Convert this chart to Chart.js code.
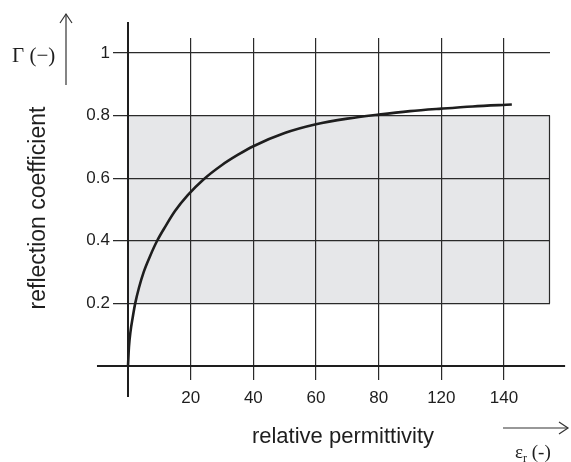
<!DOCTYPE html>
<html>
<head>
<meta charset="utf-8">
<script src="https://cdn.jsdelivr.net/npm/chart.js@4/dist/chart.umd.min.js"></script>
<style>
  html, body { margin: 0; padding: 0; background: #ffffff; }
  #wrap { width: 571px; height: 462px; }
</style>
</head>
<body>
<div id="wrap"><canvas id="c" width="571" height="462"></canvas></div>
<script>
// ---- data ----
const permittivity = [0, 0.3, 0.8, 1.5, 2.3, 3.5, 5, 7, 9.3, 12, 15, 19, 24, 30, 35, 40, 50, 60, 70, 80, 90, 100, 110, 122.5];
const reflection   = [0, 0.06, 0.11, 0.155, 0.2, 0.25, 0.3, 0.35, 0.4, 0.447, 0.495, 0.545, 0.595, 0.642, 0.674, 0.702, 0.744, 0.772, 0.79, 0.803, 0.814, 0.822, 0.829, 0.835];
const xTickValues  = [20, 40, 60, 80, 100, 120];
const xTickLabels  = ['20', '40', '60', '80', '120', '140'];
const yTickValues  = [0.2, 0.4, 0.6, 0.8, 1];
const yTickLabels  = ['0.2', '0.4', '0.6', '0.8', '1'];
const shadeX = [0, 134.4];
const shadeY = [0.2, 0.8];

const SANS = "'Liberation Sans', Arial, Helvetica, sans-serif";
const SERIF = "'Liberation Serif', 'Times New Roman', serif";
const INK = '#1e1e1e';

function arrowHead(ctx, x, y, dir) {
  ctx.beginPath();
  if (dir === 'up') {
    ctx.moveTo(x - 6, y + 9); ctx.lineTo(x, y); ctx.lineTo(x + 6, y + 9);
  } else {
    ctx.moveTo(x - 9, y - 6); ctx.lineTo(x, y); ctx.lineTo(x - 9, y + 6);
  }
  ctx.stroke();
}

const deco = {
  id: 'deco',
  beforeDraw(chart) {
    const { ctx, scales: { x, y } } = chart;
    ctx.save();
    ctx.fillStyle = '#e6e7e9';
    const x0 = x.getPixelForValue(shadeX[0]), x1 = x.getPixelForValue(shadeX[1]);
    const y0 = y.getPixelForValue(shadeY[1]), y1 = y.getPixelForValue(shadeY[0]);
    ctx.fillRect(x0, y0, x1 - x0, y1 - y0);
    ctx.restore();
  },
  beforeDatasetsDraw(chart) {
    const { ctx, scales: { x, y } } = chart;
    ctx.save();
    ctx.strokeStyle = '#2a2a2a';
    ctx.lineWidth = 1.2;
    const xr = Math.round(x.getPixelForValue(shadeX[1])) + 0.5;
    ctx.beginPath();
    ctx.moveTo(xr, y.getPixelForValue(shadeY[1]));
    ctx.lineTo(xr, y.getPixelForValue(shadeY[0]));
    ctx.stroke();
    ctx.strokeStyle = INK;
    ctx.lineWidth = 2;
    const ox = x.getPixelForValue(0), oy = y.getPixelForValue(0);
    ctx.beginPath();
    ctx.moveTo(ox, y.getPixelForValue(1.099));
    ctx.lineTo(ox, y.getPixelForValue(-0.099));
    ctx.moveTo(x.getPixelForValue(-9.9), oy);
    ctx.lineTo(x.getPixelForValue(139.5), oy);
    ctx.stroke();
    ctx.restore();
  },
  afterDraw(chart) {
    const { ctx } = chart;
    ctx.save();
    ctx.fillStyle = INK;
    ctx.font = '21px ' + SERIF;
    ctx.textBaseline = 'alphabetic';
    ctx.textAlign = 'left';
    ctx.fillText('\u0393 (\u2212)', 12, 62);
    ctx.strokeStyle = '#333';
    ctx.lineWidth = 1.2;
    ctx.beginPath(); ctx.moveTo(66, 85); ctx.lineTo(66, 14); ctx.stroke();
    arrowHead(ctx, 66, 14, 'up');
    ctx.beginPath(); ctx.moveTo(503, 428); ctx.lineTo(568, 428); ctx.stroke();
    arrowHead(ctx, 568, 428, 'right');
    ctx.font = '19px ' + SERIF;
    ctx.fillText('\u03B5', 515, 458);
    let w = ctx.measureText('\u03B5').width;
    ctx.font = '12px ' + SERIF;
    ctx.fillText('r', 515 + w, 462);
    let w2 = ctx.measureText('r').width;
    ctx.font = '19px ' + SERIF;
    ctx.fillText(' (-)', 515 + w + w2, 458);
    ctx.font = '22px ' + SANS;
    ctx.textAlign = 'center';
    ctx.fillText('relative permittivity', 343, 443);
    ctx.translate(45, 208);
    ctx.rotate(-Math.PI / 2);
    ctx.font = '23px ' + SANS;
    ctx.fillText('reflection coefficient', 0, 0);
    ctx.restore();
  }
};

new Chart(document.getElementById('c'), {
  type: 'line',
  data: {
    datasets: [{
      data: permittivity.map((e, i) => ({ x: e, y: reflection[i] })),
      borderColor: INK,
      borderWidth: 2.6,
      pointRadius: 0,
      fill: false,
      cubicInterpolationMode: 'monotone'
    }]
  },
  options: {
    responsive: false,
    devicePixelRatio: 1,
    animation: false,
    events: [],
    layout: { padding: { top: 38, right: 21, left: 0, bottom: 0 } },
    plugins: { legend: { display: false }, tooltip: { enabled: false } },
    scales: {
      x: {
        type: 'linear',
        min: -4.787,
        max: 134.68,
        afterBuildTicks: s => { s.ticks = xTickValues.map(v => ({ value: v })); },
        afterFit: s => { s.height = 82; },
        grid: { color: '#2a2a2a', lineWidth: 1.2, drawTicks: false, tickLength: 0 },
        border: { display: false },
        ticks: {
          padding: 8,
          color: INK,
          font: { family: SANS, size: 17 },
          maxRotation: 0,
          autoSkip: false,
          callback: v => { const i = xTickValues.indexOf(v); return i >= 0 ? xTickLabels[i] : ''; }
        }
      },
      y: {
        type: 'linear',
        min: -0.0447,
        max: 1.0476,
        afterBuildTicks: s => { s.ticks = yTickValues.map(v => ({ value: v })); },
        afterFit: s => { s.width = 113; },
        grid: { color: '#2a2a2a', lineWidth: 1.2, drawTicks: false, tickLength: 0 },
        border: { display: false },
        ticks: {
          padding: 3,
          color: INK,
          font: { family: SANS, size: 17 },
          autoSkip: false,
          callback: v => { const i = yTickValues.indexOf(v); return i >= 0 ? yTickLabels[i] : ''; }
        }
      }
    }
  },
  plugins: [deco]
});
</script>
</body>
</html>
